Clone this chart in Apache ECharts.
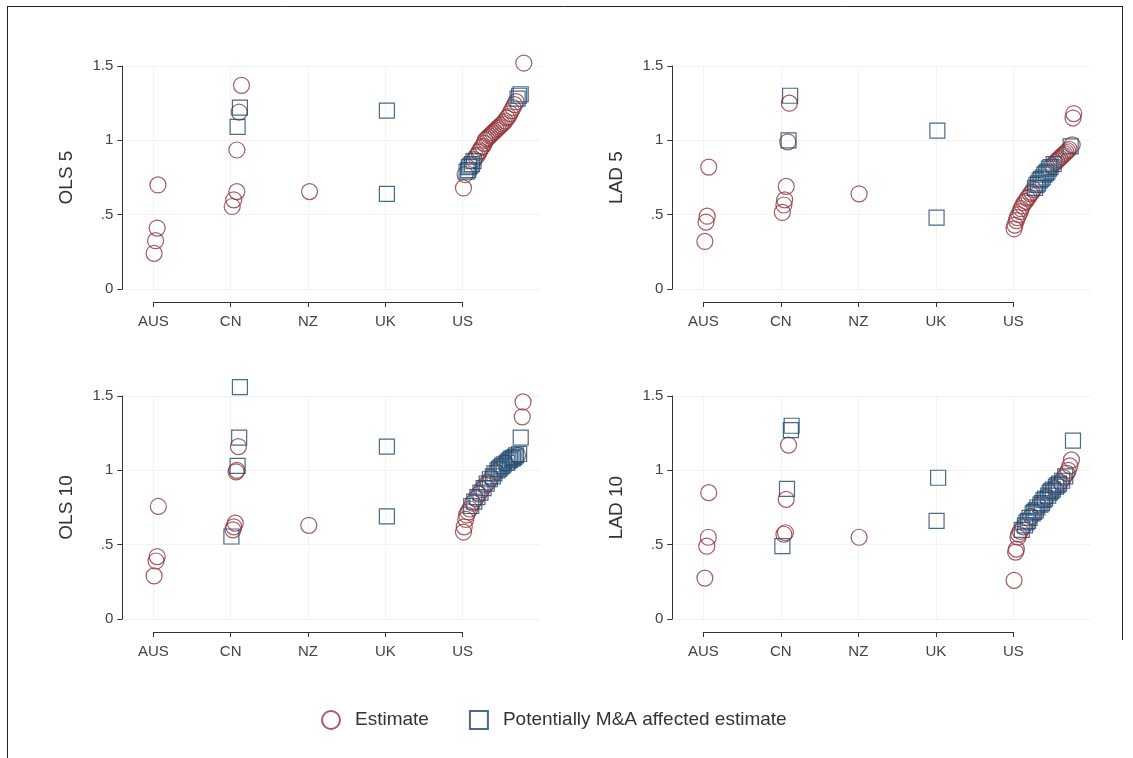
<!DOCTYPE html>
<html>
<head>
<meta charset="utf-8">
<title>Estimates by country</title>
<script src="https://cdn.jsdelivr.net/npm/echarts@6/dist/echarts.min.js"></script>
<style>
    html, body { margin: 0; padding: 0; background: #fff; }
    #main { width: 1133px; height: 758px; }
</style>
</head>
<body>
<div id="main"></div>
<script>
// x轴国家
var countries = ['AUS', 'CN', 'NZ', 'UK', 'US'];
// y轴刻度
var yTickValues = [0, 0.5, 1, 1.5];
var yTickLabels = ['0', '.5', '1', '1.5'];
var panelTitles = ['OLS 5', 'LAD 5', 'OLS 10', 'LAD 10'];

// [x, y]  x = 国家序号 + 排序偏移
var ols5Est = [[0.06, 0.70], [0.05, 0.41], [0.03, 0.325], [0.01, 0.24],
    [1.14, 1.37], [1.11, 1.19], [1.08, 0.935], [1.08, 0.655], [1.04, 0.60], [1.02, 0.555],
    [2.02, 0.655],
    [4.01, 0.68], [4.03, 0.77], [4.15, 0.87], [4.17, 0.89], [4.19, 0.90], [4.21, 0.92], [4.22, 0.93],
    [4.24, 0.95], [4.26, 0.96], [4.28, 0.98], [4.29, 1.00], [4.31, 1.01], [4.33, 1.02], [4.35, 1.03],
    [4.37, 1.04], [4.39, 1.05], [4.41, 1.06], [4.43, 1.07], [4.45, 1.08], [4.47, 1.09], [4.49, 1.10],
    [4.51, 1.11], [4.53, 1.12], [4.55, 1.13], [4.57, 1.15], [4.59, 1.16], [4.61, 1.18], [4.63, 1.20],
    [4.65, 1.22], [4.67, 1.24], [4.69, 1.26], [4.79, 1.52]];
var ols5Ma = [[1.12, 1.22], [1.09, 1.09], [3.02, 1.20], [3.02, 0.64],
    [4.05, 0.79], [4.07, 0.80], [4.08, 0.82], [4.10, 0.83], [4.12, 0.84], [4.14, 0.86],
    [4.71, 1.28], [4.73, 1.30], [4.75, 1.31]];

var lad5Est = [[0.07, 0.82], [0.05, 0.49], [0.035, 0.45], [0.02, 0.32],
    [1.11, 1.25], [1.09, 0.99], [1.07, 0.69], [1.05, 0.60], [1.04, 0.565], [1.02, 0.515],
    [2.01, 0.64],
    [4.01, 0.405], [4.02, 0.43], [4.04, 0.46], [4.05, 0.48], [4.07, 0.50], [4.09, 0.52], [4.10, 0.54],
    [4.12, 0.56], [4.14, 0.58], [4.16, 0.59], [4.18, 0.61], [4.20, 0.62], [4.22, 0.64], [4.24, 0.65],
    [4.26, 0.67], [4.50, 0.83], [4.54, 0.85], [4.56, 0.86], [4.58, 0.87], [4.60, 0.88], [4.62, 0.89],
    [4.64, 0.90], [4.66, 0.91], [4.68, 0.92], [4.70, 0.93], [4.72, 0.94], [4.76, 0.97], [4.77, 1.15],
    [4.78, 1.18]];
var lad5Ma = [[1.12, 1.30], [1.10, 1.00], [3.02, 1.065], [3.01, 0.48],
    [4.28, 0.68], [4.30, 0.70], [4.32, 0.71], [4.34, 0.73], [4.36, 0.74], [4.38, 0.75], [4.40, 0.77],
    [4.42, 0.78], [4.44, 0.79], [4.46, 0.81], [4.48, 0.82], [4.52, 0.84], [4.74, 0.96]];

var ols10Est = [[0.065, 0.757], [0.05, 0.42], [0.035, 0.39], [0.01, 0.29],
    [1.10, 1.16], [1.08, 1.00], [1.07, 0.99], [1.06, 0.645], [1.04, 0.62], [1.03, 0.60],
    [2.01, 0.63],
    [4.01, 0.585], [4.02, 0.62], [4.04, 0.67], [4.05, 0.70], [4.07, 0.72], [4.09, 0.74], [4.13, 0.78],
    [4.17, 0.81], [4.21, 0.84], [4.25, 0.87], [4.29, 0.90], [4.33, 0.92], [4.37, 0.95], [4.43, 0.99],
    [4.55, 1.05], [4.71, 1.10], [4.77, 1.36], [4.78, 1.46]];
var ols10Ma = [[1.12, 1.56], [1.11, 1.22], [1.09, 1.03], [1.01, 0.555], [3.02, 1.16], [3.02, 0.69],
    [4.11, 0.76], [4.15, 0.79], [4.19, 0.82], [4.23, 0.85], [4.27, 0.88], [4.31, 0.91], [4.35, 0.94],
    [4.39, 0.96], [4.41, 0.98], [4.45, 1.00], [4.47, 1.01], [4.49, 1.02], [4.51, 1.03], [4.53, 1.04],
    [4.57, 1.05], [4.59, 1.06], [4.61, 1.07], [4.63, 1.08], [4.65, 1.08], [4.67, 1.09], [4.69, 1.10],
    [4.73, 1.11], [4.75, 1.22]];

var lad10Est = [[0.07, 0.85], [0.065, 0.55], [0.045, 0.49], [0.02, 0.275],
    [1.10, 1.17], [1.07, 0.805], [1.06, 0.58], [1.04, 0.57],
    [2.01, 0.55],
    [4.01, 0.26], [4.03, 0.45], [4.04, 0.47], [4.06, 0.55], [4.07, 0.57], [4.09, 0.59], [4.13, 0.62],
    [4.23, 0.69], [4.33, 0.76], [4.43, 0.82], [4.53, 0.88], [4.61, 0.92], [4.65, 0.95], [4.69, 0.98],
    [4.71, 1.00], [4.73, 1.03], [4.75, 1.07]];
var lad10Ma = [[1.14, 1.30], [1.13, 1.27], [1.08, 0.875], [1.02, 0.49], [3.03, 0.95], [3.01, 0.66],
    [4.11, 0.60], [4.15, 0.63], [4.17, 0.65], [4.19, 0.66], [4.21, 0.68], [4.25, 0.71], [4.27, 0.72],
    [4.29, 0.73], [4.31, 0.75], [4.35, 0.77], [4.37, 0.78], [4.39, 0.80], [4.41, 0.81], [4.45, 0.83],
    [4.47, 0.85], [4.49, 0.86], [4.51, 0.87], [4.55, 0.89], [4.57, 0.90], [4.59, 0.91], [4.63, 0.93],
    [4.67, 0.96], [4.77, 1.20]];

var estData = [ols5Est, lad5Est, ols10Est, lad10Est];
var maData = [ols5Ma, lad5Ma, ols10Ma, lad10Ma];

var estName = 'Estimate';
var maName = 'Potentially M&A affected estimate';
var estColor = '#90353b';
var maColor = '#1a476f';
var fontFamily = '"Liberation Sans", Arial, sans-serif';

initChart();

function initChart() {
    var myChart = echarts.init(document.getElementById('main'));

    // 每个面板的位置 (AUS刻度x, 顶部y, 每单位像素)
    var layout = [
        {x0: 153.3, top: 66, unit: 77.35},
        {x0: 703.3, top: 66, unit: 77.5},
        {x0: 153.3, top: 396, unit: 77.35},
        {x0: 703.3, top: 396, unit: 77.5}
    ];
    var grids = [], xAxes = [], yAxes = [], series = [];

    for (var i = 0; i < 4; i++) {
        var l = layout[i];
        // 数据网格
        grids.push({left: l.x0 - 0.4 * l.unit, top: l.top, width: 5.4 * l.unit, height: 223});
        // 只显示x轴的网格 (AUS ~ US)
        grids.push({left: l.x0, top: l.top, width: 4 * l.unit, height: 223});

        xAxes.push({
            type: 'value', gridIndex: 2 * i, min: -0.4, max: 5, show: false
        });
        xAxes.push({
            type: 'category', gridIndex: 2 * i + 1, data: countries,
            boundaryGap: false, offset: 13,
            axisLine: {onZero: false, lineStyle: {color: '#333', width: 1}},
            axisTick: {length: 5, lineStyle: {color: '#333'}},
            axisLabel: {color: '#444', fontSize: 15, margin: 12, fontFamily: fontFamily},
            splitLine: {show: true, lineStyle: {color: '#f3f3f3', width: 1}}
        });

        yAxes.push({
            type: 'value', gridIndex: 2 * i, min: 0, max: 1.5, interval: 0.5,
            name: panelTitles[i], nameLocation: 'middle', nameRotate: 90, nameGap: 46,
            nameTextStyle: {color: '#333', fontSize: 19, fontFamily: fontFamily},
            axisLine: {show: true, onZero: false, lineStyle: {color: '#333', width: 1}},
            axisTick: {show: true, length: 5, lineStyle: {color: '#333'}},
            axisLabel: {
                color: '#444', fontSize: 15, margin: 9, fontFamily: fontFamily,
                formatter: function (v) {
                    var k = yTickValues.indexOf(v);
                    return k >= 0 ? yTickLabels[k] : '';
                }
            },
            splitLine: {show: true, lineStyle: {color: '#f3f3f3', width: 1}}
        });
        yAxes.push({type: 'value', gridIndex: 2 * i + 1, min: 0, max: 1, show: false});

        series.push({
            name: estName, type: 'scatter', xAxisIndex: 2 * i, yAxisIndex: 2 * i,
            symbol: 'circle', symbolSize: 16, clip: false,
            itemStyle: {color: 'rgba(255,255,255,0)', borderColor: estColor, borderWidth: 1.2},
            emphasis: {disabled: true},
            data: estData[i]
        });
        series.push({
            name: maName, type: 'scatter', xAxisIndex: 2 * i, yAxisIndex: 2 * i,
            symbol: 'rect', symbolSize: 15, clip: false,
            itemStyle: {color: 'rgba(255,255,255,0)', borderColor: maColor, borderWidth: 1.2},
            emphasis: {disabled: true},
            data: maData[i]
        });
    }

    var option = {
        animation: false,
        backgroundColor: '#fff',
        grid: grids,
        xAxis: xAxes,
        yAxis: yAxes,
        legend: {
            left: 316, top: 705,
            itemWidth: 18, itemHeight: 18, itemGap: 40,
            textStyle: {color: '#333', fontSize: 19, fontFamily: fontFamily, padding: [0, 0, 0, 10]},
            data: [{name: estName, icon: 'circle'}, {name: maName, icon: 'rect'}]
        },
        // 外框
        graphic: [
            {type: 'line', shape: {x1: 7, y1: 6.5, x2: 1122, y2: 6.5}, style: {stroke: '#222', lineWidth: 1}},
            {type: 'line', shape: {x1: 7.5, y1: 6, x2: 7.5, y2: 758}, style: {stroke: '#222', lineWidth: 1}},
            {type: 'line', shape: {x1: 1122.5, y1: 6, x2: 1122.5, y2: 640}, style: {stroke: '#222', lineWidth: 1}}
        ],
        series: series
    };
    myChart.setOption(option);
}
</script>
</body>
</html>
